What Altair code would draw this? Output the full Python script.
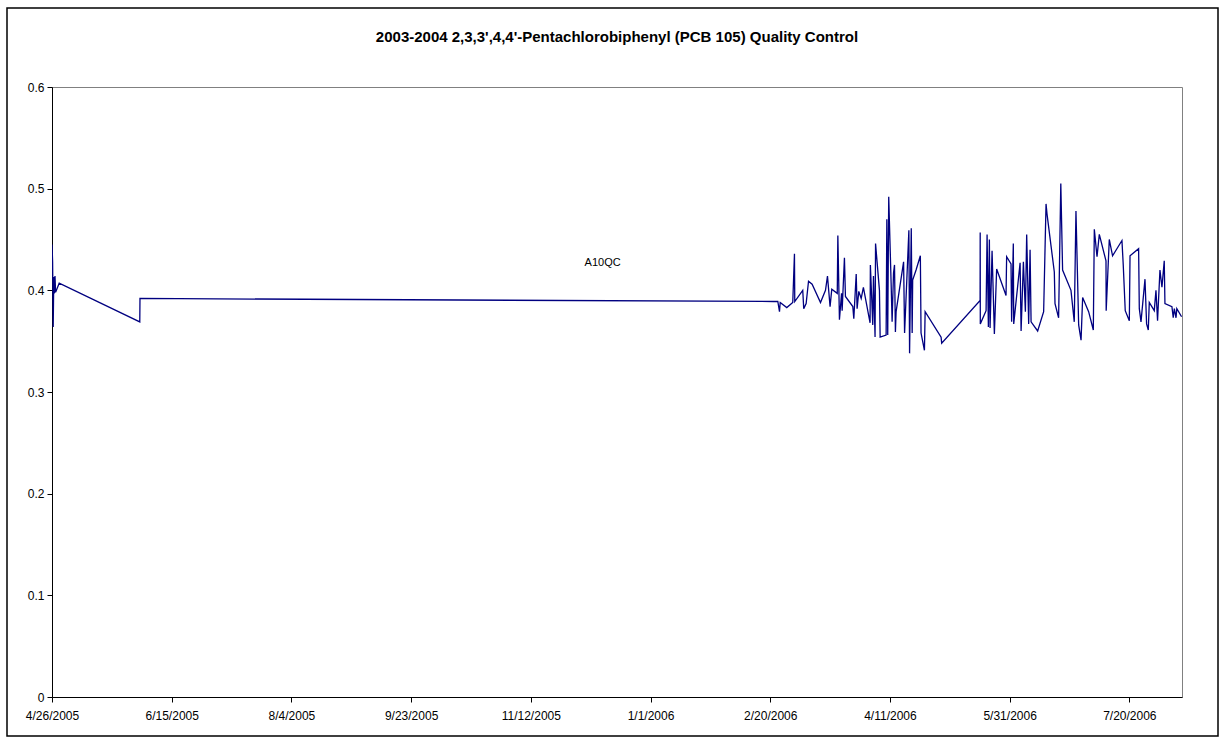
import altair as alt
import pandas as pd

title_text = "2003-2004 2,3,3',4,4'-Pentachlorobiphenyl (PCB 105) Quality Control"
series_name = "A10QC"

sample_times = [
    "2005-04-26 00:00", "2005-04-26 06:00", "2005-04-26 12:00", "2005-04-26 18:00",
    "2005-04-27 00:00", "2005-04-27 06:00", "2005-04-27 12:00", "2005-04-29 00:00",
    "2005-06-01 16:00", "2005-06-01 18:00",
    "2006-02-21 08:00", "2006-02-23 04:00", "2006-02-23 21:00", "2006-02-24 04:00",
    "2006-02-26 22:00", "2006-03-01 10:00", "2006-03-02 03:00", "2006-03-02 06:00",
    "2006-03-05 14:00", "2006-03-06 00:00", "2006-03-07 00:00", "2006-03-08 00:00",
    "2006-03-09 12:00", "2006-03-13 00:00", "2006-03-15 02:00", "2006-03-15 22:00",
    "2006-03-17 00:00", "2006-03-17 17:00", "2006-03-20 00:00", "2006-03-20 06:00",
    "2006-03-20 22:00", "2006-03-21 19:00", "2006-03-22 01:00", "2006-03-23 00:00",
    "2006-03-23 10:00", "2006-03-26 12:00", "2006-03-26 22:00", "2006-03-27 22:00",
    "2006-03-28 07:00", "2006-03-29 00:00", "2006-03-30 00:00", "2006-03-30 22:00",
    "2006-04-02 17:00", "2006-04-02 20:00", "2006-04-03 20:00", "2006-04-04 03:00",
    "2006-04-04 19:00", "2006-04-05 00:00", "2006-04-06 15:00", "2006-04-06 22:00",
    "2006-04-09 10:00", "2006-04-09 17:00", "2006-04-10 02:00", "2006-04-10 12:00",
    "2006-04-11 12:00", "2006-04-11 22:00", "2006-04-12 12:00", "2006-04-12 22:00",
    "2006-04-13 07:00", "2006-04-13 14:00", "2006-04-16 17:00", "2006-04-17 03:00",
    "2006-04-18 22:00", "2006-04-19 05:00", "2006-04-19 22:00", "2006-04-20 07:00",
    "2006-04-20 12:00", "2006-04-21 22:00", "2006-04-23 17:00", "2006-04-24 00:00",
    "2006-04-25 10:00", "2006-04-25 17:00", "2006-05-02 09:00", "2006-05-02 15:00",
    "2006-05-18 16:00", "2006-05-18 17:00", "2006-05-18 18:00", "2006-05-21 04:00",
    "2006-05-21 14:00", "2006-05-22 03:00", "2006-05-22 13:00", "2006-05-22 20:00",
    "2006-05-23 16:00", "2006-05-24 15:00", "2006-05-25 14:00", "2006-05-29 12:00",
    "2006-05-29 18:00", "2006-05-31 14:00", "2006-05-31 20:00", "2006-06-01 13:00",
    "2006-06-01 17:00", "2006-06-04 09:00", "2006-06-04 19:00", "2006-06-05 18:00",
    "2006-06-06 14:00", "2006-06-07 03:00", "2006-06-07 23:00", "2006-06-08 13:00",
    "2006-06-08 23:00", "2006-06-11 17:00", "2006-06-14 05:00", "2006-06-15 05:00",
    "2006-06-15 15:00", "2006-06-18 16:00", "2006-06-18 23:00", "2006-06-20 11:00",
    "2006-06-21 09:00", "2006-06-22 03:00", "2006-06-25 15:00", "2006-06-27 00:00",
    "2006-06-27 17:00", "2006-06-28 20:00", "2006-06-29 20:00", "2006-06-30 12:00",
    "2006-07-03 00:00", "2006-07-04 23:00", "2006-07-05 09:00", "2006-07-06 12:00",
    "2006-07-07 11:00", "2006-07-10 06:00", "2006-07-10 08:00", "2006-07-11 15:00",
    "2006-07-13 00:00", "2006-07-16 22:00", "2006-07-17 11:00", "2006-07-18 07:00",
    "2006-07-20 00:00", "2006-07-20 07:00", "2006-07-23 21:00", "2006-07-24 04:00",
    "2006-07-24 21:00", "2006-07-26 13:00", "2006-07-27 05:00", "2006-07-27 22:00",
    "2006-07-28 08:00", "2006-07-30 10:00", "2006-07-31 03:00", "2006-07-31 19:00",
    "2006-08-01 19:00", "2006-08-02 15:00", "2006-08-03 14:00", "2006-08-03 21:00",
    "2006-08-06 19:00", "2006-08-07 08:00", "2006-08-07 19:00", "2006-08-08 12:00",
    "2006-08-08 20:00", "2006-08-10 20:00",
]

sample_values = [
    0.445, 0.428, 0.364, 0.413,
    0.397, 0.414, 0.398, 0.407,
    0.369, 0.392,
    0.389, 0.389, 0.379, 0.388,
    0.383, 0.388, 0.436, 0.389,
    0.400, 0.382, 0.387, 0.409,
    0.406, 0.388, 0.400, 0.414,
    0.384, 0.401, 0.397, 0.454,
    0.371, 0.397, 0.380, 0.432,
    0.394, 0.384, 0.372, 0.416,
    0.382, 0.399, 0.392, 0.403,
    0.368, 0.425, 0.366, 0.414,
    0.354, 0.446, 0.400, 0.354,
    0.356, 0.470, 0.356, 0.492,
    0.407, 0.369, 0.417, 0.425,
    0.359, 0.379, 0.428, 0.358,
    0.459, 0.338, 0.461, 0.358,
    0.410, 0.420, 0.434, 0.358,
    0.341, 0.379, 0.354, 0.348,
    0.390, 0.457, 0.367, 0.380,
    0.455, 0.364, 0.450, 0.363,
    0.439, 0.357, 0.421, 0.395,
    0.433, 0.426, 0.369, 0.446,
    0.367, 0.427, 0.360, 0.428,
    0.379, 0.455, 0.367, 0.440,
    0.369, 0.360, 0.379, 0.485,
    0.475, 0.418, 0.387, 0.373,
    0.505, 0.420, 0.400, 0.369,
    0.478, 0.366, 0.351, 0.393,
    0.379, 0.361, 0.460, 0.433,
    0.455, 0.429, 0.380, 0.450,
    0.434, 0.449, 0.425, 0.380,
    0.370, 0.434, 0.441, 0.382,
    0.369, 0.411, 0.367, 0.361,
    0.388, 0.380, 0.400, 0.370,
    0.420, 0.403, 0.429, 0.387,
    0.384, 0.373, 0.382, 0.373,
    0.382, 0.374,
]

x_tick_dates = ["2005-04-26", "2005-06-15", "2005-08-04", "2005-09-23", "2005-11-12",
                "2006-01-01", "2006-02-20", "2006-04-11", "2006-05-31", "2006-07-20"]
y_ticks = [0, 0.1, 0.2, 0.3, 0.4, 0.5, 0.6]
x_domain = ["2005-04-26", "2006-08-11"]

label_date = "2005-12-12"
label_value = 0.427

W, H = 1130, 610
PAD_L, PAD_T = 52, 87


def utc(s):
    ts = pd.Timestamp(s)
    return alt.DateTime(year=ts.year, month=ts.month, date=ts.day,
                        hours=ts.hour, minutes=ts.minute, utc=True)


def iso(s):
    return pd.Timestamp(s).strftime("%Y-%m-%dT%H:%M:%SZ")


df = pd.DataFrame({"t": [iso(s) for s in sample_times], "v": sample_values})

x_scale = alt.Scale(type="utc", domain=[utc(d) for d in x_domain], nice=False)
y_scale = alt.Scale(domain=[0, 0.6], nice=False, zero=True)

x_axis = alt.Axis(values=[utc(d) for d in x_tick_dates],
                  labelExpr="utcFormat(datum.value, '%-m/%-d/%Y')",
                  title=None, grid=False, tickSize=5,
                  labelPadding=8, labelFont="Liberation Sans", labelFontSize=12,
                  labelColor="black", domainColor="black", tickColor="black",
                  labelFlush=False, labelOverlap=False)
y_axis = alt.Axis(values=y_ticks, format="~g", title=None, grid=False, tickSize=5,
                  labelPadding=3, labelFont="Liberation Sans", labelFontSize=12,
                  labelColor="black", domainColor="black", tickColor="black")

line = alt.Chart(df).mark_line(color="#000080", strokeWidth=1.3, clip=True).encode(
    x=alt.X("t:T", scale=x_scale, axis=x_axis),
    y=alt.Y("v:Q", scale=y_scale, axis=y_axis),
)

label_df = pd.DataFrame({"t": [iso(label_date)], "v": [label_value], "s": [series_name]})
label = alt.Chart(label_df).mark_text(font="Liberation Sans", fontSize=11,
                                      color="black").encode(
    x=alt.X("t:T", scale=x_scale, axis=x_axis),
    y=alt.Y("v:Q", scale=y_scale, axis=y_axis),
    text="s:N",
)

deco = alt.Chart(pd.DataFrame({"title": [title_text]}))

border = deco.mark_rect(
    fill=None, stroke="black", strokeWidth=1.5, clip=False
).encode(
    x=alt.value(7 - PAD_L), x2=alt.value(1218 - PAD_L),
    y=alt.value(8 - PAD_T), y2=alt.value(736 - PAD_T),
)

title = deco.mark_text(font="Liberation Sans", fontSize=15, fontWeight="bold",
                       color="black", align="center", baseline="middle",
                       clip=False).encode(
    x=alt.value(W / 2), y=alt.value(37 - PAD_T), text="title:N",
)

chart = alt.layer(border, title, line, label).properties(
    width=W, height=H,
    autosize=alt.AutoSizeParams(type="none"),
    padding={"left": PAD_L, "top": PAD_T, "right": 1225 - PAD_L - W,
             "bottom": 740 - PAD_T - H},
    background="white",
).configure_view(stroke="#808080", strokeWidth=1)

chart.save("out.html", embed_options={"renderer": "svg", "actions": False})
